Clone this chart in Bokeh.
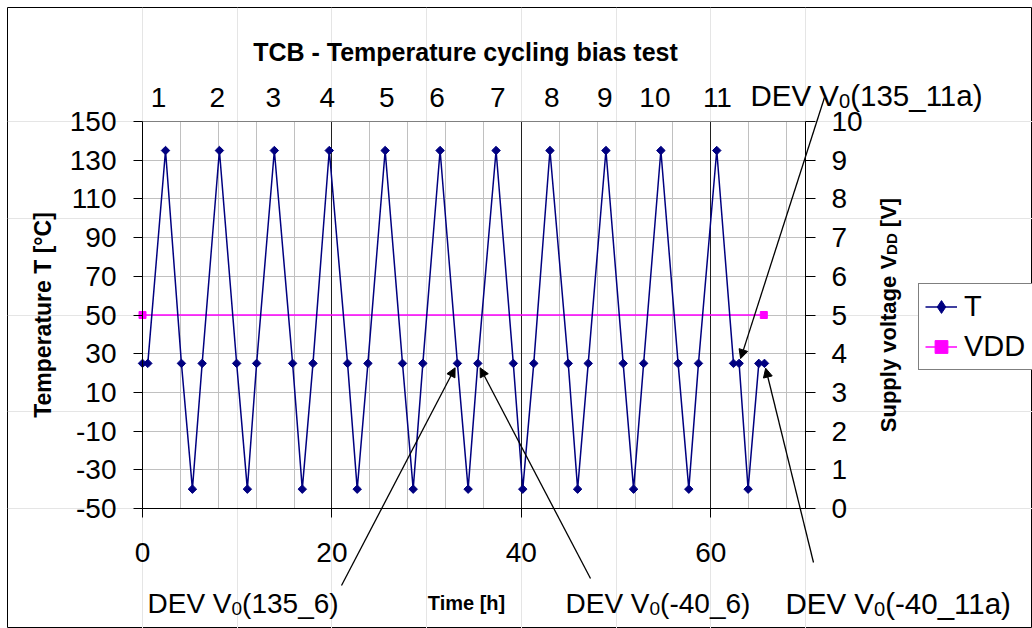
import math
from bokeh.plotting import figure
from bokeh.models import (Range1d, LinearAxis, FixedTicker, Label, Arrow,
                          NormalHead, Legend, LegendItem, Grid)
from bokeh.embed import file_html
from bokeh.resources import INLINE

# ---------------- data ----------------
time_h = [0.0, 0.56, 2.43, 4.11, 5.27, 6.30, 8.12, 9.94, 11.07, 12.05,
          13.92, 15.85, 16.87, 18.0, 19.72, 21.65, 22.67, 23.80, 25.62, 27.45,
          28.58, 29.60, 31.42, 33.25, 34.38, 35.40, 37.33, 39.15, 40.15, 41.31,
          43.02, 44.95, 45.94, 47.06, 48.93, 50.75, 51.85, 52.91, 54.73, 56.55,
          57.68, 58.70, 60.63, 62.40, 62.99, 63.94, 65.07, 65.67]
temp_c = [25, 25, 135, 25, -40, 25, 135, 25, -40, 25,
          135, 25, -40, 25, 135, 25, -40, 25, 135, 25,
          -40, 25, 135, 25, -40, 25, 135, 25, -40, 25,
          135, 25, -40, 25, 135, 25, -40, 25, 135, 25,
          -40, 25, 135, 25, 25, -40, 25, 25]
vdd_time_h = [0.0, 65.6]
vdd_v = [5.0, 5.0]

cycle_labels = ["1", "2", "3", "4", "5", "6", "7", "8", "9", "10", "11"]
cycle_label_pos = [1.7, 7.9, 13.8, 19.5, 25.8, 31.1, 37.5, 43.2, 48.8, 54.1, 60.7]
temp_ticks = [-50, -30, -10, 10, 30, 50, 70, 90, 110, 130, 150]
volt_ticks = [0, 1, 2, 3, 4, 5, 6, 7, 8, 9, 10]
time_ticks = [0, 20, 40, 60]
time_minor_grid = [4, 8, 12, 16, 24, 28, 32, 36, 44, 48, 52, 56, 64, 68]
temp_grid = [-30, -10, 10, 30, 50, 70, 90, 110, 130]

# annotation: (label suffix, index of annotated T point)
annotations = [("135_6", 23), ("-40_6", 25), ("135_11a", 44), ("-40_11a", 47)]

# ---------------- layout (page pixels) ----------------
W, H = 1032, 628
OL, OT = 7, 7                                 # chart-area border (frame of the bokeh plot)
X0, X1, Y0, Y1 = 0.0, 70.0, -50.0, 150.0
V0, V1 = 0.0, 10.0
FL, FR, FT, FB = 142, 805, 121, 508           # plot-area edges on page
PXX = (FR - FL) / (X1 - X0)
PXY = (FB - FT) / (Y1 - Y0)
PXV = (FB - FT) / (V1 - V0)

def hx(px):
    return X0 + (px - FL) / PXX

def ty(py):
    return Y1 - (py - FT) / PXY

REG = {'D': 722, 'E': 667, 'V': 667, ' ': 278, '(': 333, ')': 333, '_': 556,
       '-': 333, 'a': 556}
for d in "0123456789":
    REG[d] = 556
BOLD = {'S': 667, 'u': 611, 'p': 611, 'l': 278, 'y': 556, ' ': 278, 'v': 556,
        'o': 611, 't': 333, 'a': 556, 'g': 611, 'e': 556, 'V': 667, 'D': 722,
        '[': 333, ']': 333}

def tw(s, size, table):
    return sum(table[c] for c in s) * size / 1000.0

FONT = "Liberation Sans"

p = figure(width=W, height=H,
           x_range=Range1d(X0 - (FL - OL) / PXX, X1 + (W - FR) / PXX),
           y_range=Range1d(Y0 - (H - FB) / PXY, Y1 + (FT - OT) / PXY),
           x_axis_location=None, y_axis_location=None,
           output_backend="svg", toolbar_location=None,
           min_border_left=OL, min_border_right=0, min_border_top=OT,
           min_border_bottom=0, background_fill_color="white",
           border_fill_color="white")
p.extra_y_ranges = {"vdd": Range1d(V0 - (H - FB) / PXV, V1 + (FT - OT) / PXV)}
p.outline_line_color = "black"
p.outline_line_width = 1

# grids
p.add_layout(Grid(dimension=1, ticker=FixedTicker(ticks=temp_grid), cross_bounds=(X0, X1),
                  grid_line_color="#c0c0c0", grid_line_width=1))
p.add_layout(Grid(dimension=0, ticker=FixedTicker(ticks=time_minor_grid), cross_bounds=(Y0, Y1),
                  grid_line_color="#c0c0c0", grid_line_width=1))
p.add_layout(Grid(dimension=0, ticker=FixedTicker(ticks=time_ticks[1:]), cross_bounds=(Y0, Y1),
                  grid_line_color="#202020", grid_line_width=1))

def style_axis(ax, size="28px"):
    ax.major_label_text_font = FONT
    ax.major_label_text_font_size = size
    ax.major_label_text_color = "black"
    ax.axis_line_color = "black"
    ax.axis_line_width = 1
    ax.major_tick_line_color = "black"
    ax.major_tick_in = 0
    ax.minor_tick_line_color = None

# bottom axis
xa = LinearAxis(ticker=FixedTicker(ticks=time_ticks), fixed_location=Y0, bounds=(X0, X1))
style_axis(xa)
xa.major_tick_out = 9
xa.major_label_standoff = 25
p.add_layout(xa, "below")

# left axis
ya = LinearAxis(ticker=FixedTicker(ticks=temp_ticks), fixed_location=X0, bounds=(Y0, Y1),
                major_label_overrides={t: str(t) for t in temp_ticks})
style_axis(ya)
ya.major_tick_out = 9
ya.major_label_standoff = 17
p.add_layout(ya, "left")

# right axis (supply voltage)
ra = LinearAxis(y_range_name="vdd", ticker=FixedTicker(ticks=volt_ticks),
                fixed_location=X1, bounds=(V0, V1))
style_axis(ra)
ra.major_tick_out = 10
ra.major_label_standoff = 16
p.add_layout(ra, "right")

# top axis (cycle numbers)
ta = LinearAxis(ticker=FixedTicker(ticks=cycle_label_pos), fixed_location=Y1, bounds=(X0, X1),
                major_label_overrides={pos: lab for pos, lab in zip(cycle_label_pos, cycle_labels)})
style_axis(ta)
ta.axis_line_color = "#808080"
ta.major_tick_line_color = None
ta.major_tick_out = 0
ta.major_label_standoff = 15
p.add_layout(ta, "above")

# series
vl = p.line(vdd_time_h, vdd_v, y_range_name="vdd", line_color="#FF00FF", line_width=1.5)
vs = p.scatter(vdd_time_h, vdd_v, y_range_name="vdd", marker="square", size=7,
               fill_color="#FF00FF", line_color="#FF00FF")
tl = p.line(time_h, temp_c, line_color="#000080", line_width=1.5)
ts = p.scatter(time_h, temp_c, marker="square", angle=math.pi / 4, size=6,
               fill_color="#000080", line_color="#000080")
# legend swatch marker for T (diamond like the series markers); not drawn in the plot
ts_key = p.scatter(time_h[:1], temp_c[:1], marker="diamond", size=10,
                   fill_color="#000080", line_color="#000080", visible=False)

legend = Legend(items=[LegendItem(label="T", renderers=[tl, ts_key]),
                       LegendItem(label="VDD", renderers=[vl, vs])],
                location=(918 - OL, H - 370), orientation="vertical",
                label_text_font=FONT, label_text_font_size="29px",
                label_text_color="black", glyph_width=32, glyph_height=33,
                label_height=33, label_width=80, spacing=7, padding=6, margin=0,
                label_standoff=7, border_line_color="black", border_line_width=1,
                background_fill_color="white", background_fill_alpha=1.0,
                inactive_fill_alpha=0.0)
p.add_layout(legend)

# title
p.add_layout(Label(x=hx(465), y=ty(51), text="TCB - Temperature cycling bias test",
                   text_align="center", text_baseline="alphabetic",
                   text_font=FONT, text_font_size="25px", text_font_style="bold",
                   text_color="black"))

# axis titles
p.add_layout(Label(x=hx(42), y=ty((FT + FB) / 2), text="Temperature T [°C]", angle=math.pi / 2,
                   text_align="center", text_baseline="middle", text_font=FONT,
                   text_font_size="23px", text_font_style="bold", text_color="black"))
p.add_layout(Label(x=hx(466), y=ty(602), text="Time [h]", text_align="center",
                   text_baseline="alphabetic", text_font=FONT, text_font_size="20px",
                   text_font_style="bold", text_color="black"))

rs, rss = 22, 15
r_parts = [("Supply voltage V", rs, 0), ("DD", rss, 3), ("[V]", rs, 0)]
r_widths = [tw("Supply voltage V", rs, BOLD), tw("DD", rss, BOLD) + tw(" ", rs, BOLD),
            tw("[V]", rs, BOLD)]
start_py = (FT + FB) / 2 + sum(r_widths) / 2
base_px = 887.5
off = 0.0
for (txt, size, dx), w in zip(r_parts, r_widths):
    p.add_layout(Label(x=hx(base_px + dx), y=ty(start_py - off), text=txt, angle=math.pi / 2,
                       text_align="left", text_baseline="alphabetic", text_font=FONT,
                       text_font_size=f"{size}px", text_font_style="bold",
                       text_color="black"))
    off += w

# DEV annotations: text baseline-left position, arrow start (page px), font size
ann_layout = {
    "135_6": ((147, 603), (341, 585), 28),
    "-40_6": ((565, 603), (590, 578), 28),
    "135_11a": ((750, 95), (824, 97), 29.5),
    "-40_11a": ((785, 603), (813, 562), 29.5),
}
for suffix, idx in annotations:
    (tx, tyy), (sx, sy), fs = ann_layout[suffix]
    fsub = round(fs * 0.68, 1)
    parts = [("DEV V", fs, 0), ("0", fsub, 5), ("(" + suffix + ")", fs, 0)]
    cx = tx
    for txt, size, drop in parts:
        p.add_layout(Label(x=hx(cx), y=ty(tyy + drop), text=txt, text_align="left",
                           text_baseline="alphabetic", text_font=FONT,
                           text_font_size=f"{size}px", text_color="black"))
        cx += tw(txt, size, REG)
    ex_px = FL + (time_h[idx] - X0) * PXX
    ey_px = FT + (Y1 - temp_c[idx]) * PXY
    vx, vy = sx - ex_px, sy - ey_px
    L = math.hypot(vx, vy)
    ex_px += vx / L * 5
    ey_px += vy / L * 5
    p.add_layout(Arrow(end=NormalHead(size=9, fill_color="black", line_color="black"),
                       x_start=hx(sx), y_start=ty(sy), x_end=hx(ex_px), y_end=ty(ey_px),
                       line_color="black", line_width=1.3))

open("out.html", "w").write(file_html(p, INLINE))
